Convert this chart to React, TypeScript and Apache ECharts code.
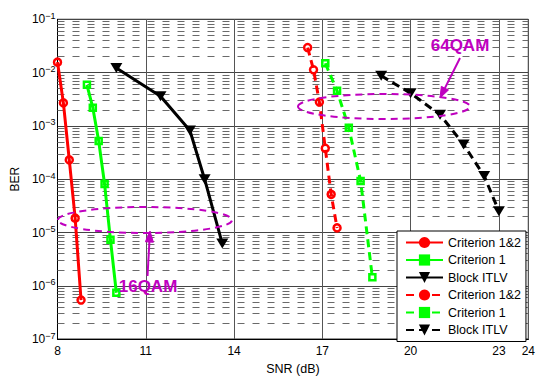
import { useEffect, useRef } from 'react';
import * as echarts from 'echarts';

const FONT = '"Liberation Sans", Arial, Helvetica, sans-serif';
const MAG = '#bf00bf';

// 16QAM
const snrC12 = [8, 8.2, 8.4, 8.6, 8.8];
const berC12 = [1.57e-2, 2.7e-3, 2.3e-4, 1.86e-5, 5.4e-7];
const snrC1 = [9, 9.2, 9.4, 9.6, 9.8, 10];
const berC1 = [5.9e-3, 2.2e-3, 5.2e-4, 8.1e-5, 7.3e-6, 7.4e-7];
const snrBlk = [10, 11.5, 12.5, 13, 13.6];
const berBlk = [1.22e-2, 3.6e-3, 8.2e-4, 1.0e-4, 6.2e-6];
// 64QAM
const snrC12b = [16.5, 16.7, 16.9, 17.1, 17.3, 17.5];
const berC12b = [2.95e-2, 1.13e-2, 2.8e-3, 3.8e-4, 5.2e-5, 1.22e-5];
const snrC1b = [17.1, 17.5, 17.9, 18.3, 18.7];
const berC1b = [1.5e-2, 4.55e-3, 9.2e-4, 9.3e-5, 1.44e-6];
const snrBlkb = [19, 20, 21, 21.8, 22.5, 23];
const berBlkb = [8.7e-3, 4.1e-3, 1.62e-3, 4.5e-4, 1.15e-4, 2.5e-5];

const legendLabels = ['Criterion 1&2', 'Criterion 1', 'Block ITLV', 'Criterion 1&2', 'Criterion 1', 'Block ITLV'];
const xMin = 8;
const xMax = 24;
const xStep = 3;
const yMinExp = -7;
const yMaxExp = -1;

function mk(name: string, xs: number[], ys: number[], color: string, dashed: boolean, symbol: string) {
  const isTri = symbol === 'triangle';
  return {
    type: 'line',
    name,
    data: xs.map((x, i) => [x, ys[i]]),
    symbol,
    symbolSize: isTri ? [12, 10] : symbol === 'circle' ? 7 : 6,
    symbolRotate: isTri ? 180 : 0,
    lineStyle: { color, width: 3, type: dashed ? [8, 5] : 'solid', cap: 'butt' },
    itemStyle: isTri
      ? { color }
      : { color: 'rgba(255,255,255,0)', borderColor: color, borderWidth: 2.5 },
    z: 3,
  };
}

function arrow(x1: number, y1: number, x2: number, y2: number) {
  const dx = x2 - x1, dy = y2 - y1;
  const L = Math.hypot(dx, dy);
  const ux = dx / L, uy = dy / L;
  const hl = 11, hw = 4;
  const bx = x2 - ux * hl, by = y2 - uy * hl;
  return [
    { type: 'line', shape: { x1, y1, x2: bx, y2: by }, style: { stroke: MAG, lineWidth: 2 }, z: 10 },
    {
      type: 'polygon',
      shape: { points: [[x2, y2], [bx - uy * hw, by + ux * hw], [bx + uy * hw, by - ux * hw]] },
      style: { fill: MAG, stroke: MAG, lineWidth: 1 },
      z: 10,
    },
  ];
}

export default function App() {
  const ref = useRef<HTMLDivElement>(null);
  useEffect(() => {
    const chart = echarts.init(ref.current!, null, { renderer: 'svg' });
    const names = legendLabels.map((l, i) => `${l}|${i}`);
    const colors = ['#ff0000', '#00ff00', '#000000', '#ff0000', '#00ff00', '#000000'];
    const minorVals: number[] = [];
    for (let d = yMinExp; d < yMaxExp; d++) for (let k = 2; k <= 9; k++) minorVals.push(k * Math.pow(10, d));

    const option: any = {
      animation: false,
      backgroundColor: '#fff',
      grid: { left: 57.5, top: 19.3, right: 3, bottom: 32, show: true, borderColor: '#000', borderWidth: 1, backgroundColor: 'transparent' },
      xAxis: {
        type: 'value',
        min: xMin,
        max: xMax,
        interval: xStep,
        name: 'SNR (dB)',
        nameLocation: 'middle',
        nameGap: 22,
        nameTextStyle: { fontFamily: FONT, fontSize: 12.5, color: '#000' },
        axisLine: { show: true, lineStyle: { color: '#000', width: 1 } },
        axisTick: { show: false },
        axisLabel: { fontFamily: FONT, fontSize: 12, color: '#000', margin: 6 },
        splitLine: { show: true, lineStyle: { color: '#555', width: 1 } },
      },
      yAxis: {
        type: 'log',
        logBase: 10,
        min: Math.pow(10, yMinExp),
        max: Math.pow(10, yMaxExp),
        splitNumber: 6,
        name: 'BER',
        nameLocation: 'middle',
        nameGap: 36,
        nameTextStyle: { fontFamily: FONT, fontSize: 12, color: '#000' },
        axisLine: { show: true, lineStyle: { color: '#000', width: 1 } },
        axisTick: { show: false },
        axisLabel: {
          margin: 2,
          formatter: (v: number) => {
            const e = Math.round(Math.log10(v));
            return `{b|10}{e|${e < 0 ? '\u2212' : ''}${Math.abs(e)}}`;
          },
          rich: {
            b: { fontFamily: FONT, fontSize: 12, color: '#000' },
            e: { fontFamily: FONT, fontSize: 9, color: '#000', padding: [0, 0, 7, 0] },
          },
        },
        splitLine: { show: true, lineStyle: { color: '#444', width: 1 } },
      },
      legend: {
        data: names.map((n, i) => ({ name: n, itemStyle: { color: colors[i], borderWidth: 0 } })),
        formatter: (n: string) => n.split('|')[0],
        orient: 'vertical',
        left: 397,
        top: 231,
        padding: [5, 5, 5, 8],
        itemGap: 4.5,
        itemWidth: 37,
        itemHeight: 14,
        backgroundColor: '#fff',
        borderColor: '#000',
        borderWidth: 1,
        borderRadius: 0,
        textStyle: { fontFamily: FONT, fontSize: 12.5, color: '#000' },
        selectedMode: false,
        z: 20,
      },
      series: [
        {
          type: 'lines',
          coordinateSystem: 'cartesian2d',
          silent: true,
          z: 1,
          lineStyle: { color: '#6a6a6a', width: 1, type: [7, 8], opacity: 1 },
          data: minorVals.map((v) => ({ coords: [[xMin, v], [xMax, v]] })),
        },
        mk(names[0], snrC12, berC12, colors[0], false, 'circle'),
        mk(names[1], snrC1, berC1, colors[1], false, 'rect'),
        mk(names[2], snrBlk, berBlk, colors[2], false, 'triangle'),
        mk(names[3], snrC12b, berC12b, colors[3], true, 'circle'),
        mk(names[4], snrC1b, berC1b, colors[4], true, 'rect'),
        mk(names[5], snrBlkb, berBlkb, colors[5], true, 'triangle'),
      ],
      graphic: [
        { type: 'ellipse', shape: { cx: 145, cy: 220, rx: 87, ry: 13 }, style: { fill: 'none', stroke: MAG, lineWidth: 2, lineDash: [7, 5] }, z: 10 },
        { type: 'ellipse', shape: { cx: 384, cy: 106.5, rx: 86, ry: 12.5 }, style: { fill: 'none', stroke: MAG, lineWidth: 2, lineDash: [7, 5] }, z: 10 },
        ...arrow(147.5, 276, 150, 231),
        ...arrow(460, 58, 440, 98),
        { type: 'text', x: 148, y: 286, style: { text: '16QAM', font: `bold 17px ${FONT}`, fill: MAG, align: 'center', verticalAlign: 'middle' }, z: 10 },
        { type: 'text', x: 460, y: 45, style: { text: '64QAM', font: `bold 17px ${FONT}`, fill: MAG, align: 'center', verticalAlign: 'middle' }, z: 10 },
      ],
    };
    chart.setOption(option);
    return () => chart.dispose();
  }, []);
  return <div ref={ref} style={{ position: 'fixed', left: 0, top: 0, width: 538, height: 380, background: '#fff' }} />;
}
